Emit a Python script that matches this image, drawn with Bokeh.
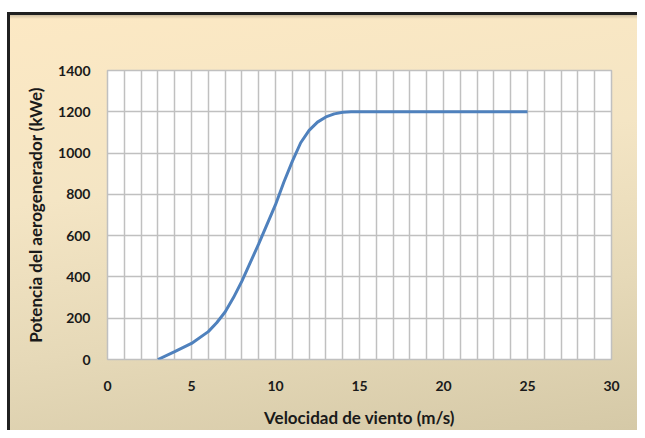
from bokeh.plotting import figure
from bokeh.models import Range1d, FixedTicker, ColumnDataSource
from bokeh.embed import file_html
from bokeh.resources import INLINE

# ---- data ----
wind_speed = [3, 4, 5, 6, 6.5, 7, 7.5, 8, 9, 10, 10.5, 11, 11.5, 12, 12.5, 13, 13.5,
              14, 14.5, 15, 16, 17, 18, 19, 20, 21, 22, 23, 24, 25]
power_kwe = [0, 38, 78, 135, 178, 230, 300, 380, 560, 750, 860, 960, 1050, 1110, 1150,
             1175, 1190, 1198, 1200, 1200, 1200, 1200, 1200, 1200, 1200, 1200, 1200,
             1200, 1200, 1200]
x_ticks = [0, 5, 10, 15, 20, 25, 30]
x_grid = list(range(0, 31))
y_ticks = [0, 200, 400, 600, 800, 1000, 1200, 1400]
x_title = "Velocidad de viento (m/s)"
y_title = "Potencia del aerogenerador (kWe)"

FONT = "Lato"
TXT = "#1a1a1a"
GRID = "#c0c0c0"

p = figure(width=637, height=430, output_backend="svg", toolbar_location=None,
           x_range=Range1d(0, 30), y_range=Range1d(0, 1400),
           min_border_left=107, min_border_right=26, min_border_top=70,
           min_border_bottom=70)

p.background_fill_color = "white"
p.border_fill_alpha = 0
p.styles = {
    "background": (
        "linear-gradient(#202020,#202020) 7px 12px / 100% 3px no-repeat, "
        "linear-gradient(#202020,#202020) 7px 12px / 3px 100% no-repeat, "
        "linear-gradient(rgba(0,0,0,0.18),rgba(0,0,0,0)) 10px 15px / 100% 4px no-repeat, "
        "linear-gradient(#ffffff,#ffffff) 0 0 / 100% 12px no-repeat, "
        "linear-gradient(#ffffff,#ffffff) 0 0 / 7px 100% no-repeat, "
        "linear-gradient(172deg, #fde9c4 0%, #f4e5c4 40%, #e6d9b8 70%, #d5c9a7 100%)"
    )
}
p.outline_line_color = GRID
p.outline_line_width = 1.5

src = ColumnDataSource(data=dict(x=wind_speed, y=power_kwe))
p.line("x", "y", source=src, line_color="#4f81bd", line_width=3)

# grids
p.xgrid.ticker = FixedTicker(ticks=x_grid)
p.ygrid.ticker = FixedTicker(ticks=y_ticks)
for g in (p.xgrid[0], p.ygrid[0]):
    g.grid_line_color = GRID
    g.grid_line_width = 1.5

# axes
p.xaxis.ticker = FixedTicker(ticks=x_ticks)
p.yaxis.ticker = FixedTicker(ticks=y_ticks)
for ax in (p.xaxis[0], p.yaxis[0]):
    ax.axis_line_color = None
    ax.major_tick_line_color = None
    ax.minor_tick_line_color = None
    ax.major_label_text_font = FONT
    ax.major_label_text_font_style = "bold"
    ax.major_label_text_font_size = "14px"
    ax.major_label_text_color = TXT
    ax.axis_label_text_font = FONT
    ax.axis_label_text_font_style = "bold"
    ax.axis_label_text_font_size = "17px"
    ax.axis_label_text_color = TXT

p.xaxis.axis_label = x_title
p.yaxis.axis_label = y_title
p.xaxis.major_label_standoff = 15
p.xaxis.axis_label_standoff = 13
p.yaxis.major_label_standoff = 11
p.yaxis.axis_label_standoff = 9

open("out.html", "w").write(file_html(p, INLINE))
